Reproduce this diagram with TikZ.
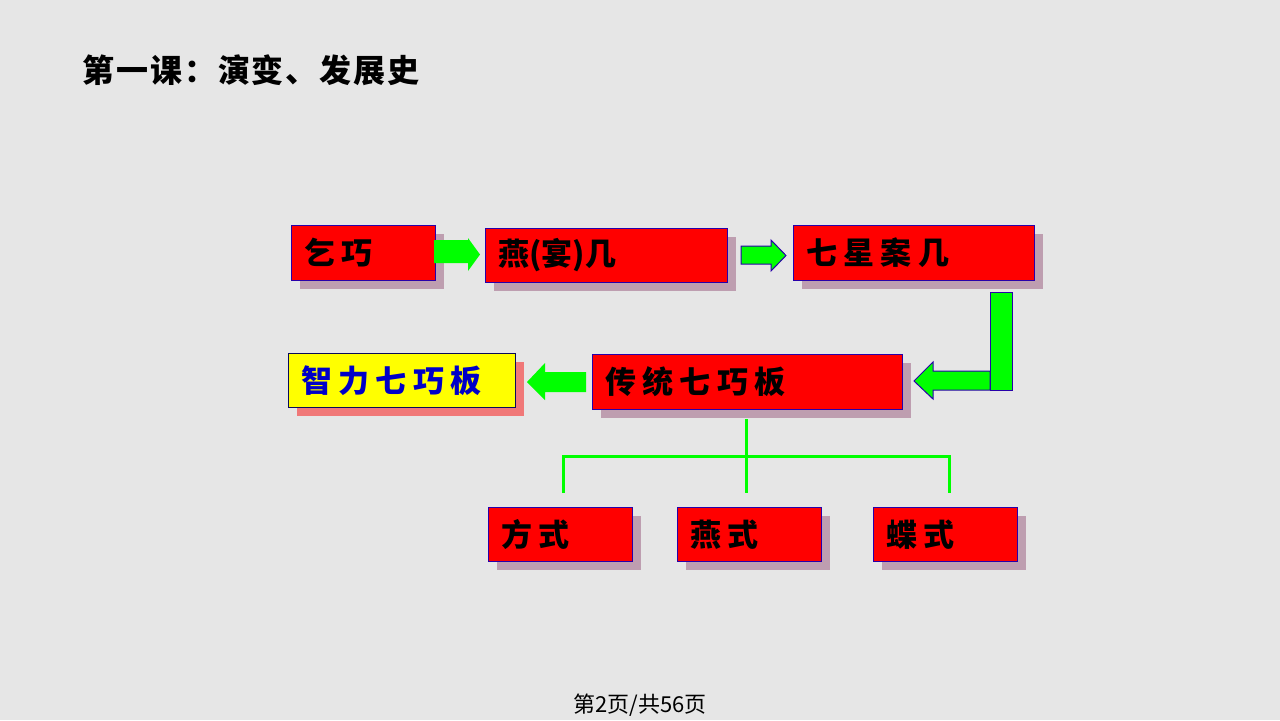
\documentclass[tikz,border=0pt]{standalone}
\usepackage{fontspec}
\setmainfont{Noto Sans CJK SC}
\newfontfamily\cjk{Noto Sans CJK SC}
\usetikzlibrary{shadows,calc}
\definecolor{bgc}{RGB}{230,230,230}
\definecolor{boxred}{RGB}{255,0,0}
\definecolor{boxline}{RGB}{40,0,170}
\definecolor{shade}{RGB}{190,158,176}
\definecolor{salmon}{RGB}{240,120,120}
\definecolor{grn}{RGB}{0,255,0}
\definecolor{yel}{RGB}{255,255,0}
\definecolor{navy}{RGB}{10,10,90}
\definecolor{bluetext}{RGB}{0,0,200}
\tikzset{
  redbox/.style={draw=boxline, line width=0.5pt, fill=boxred, anchor=north west,
    inner xsep=6.5pt, inner ysep=0pt, align=left, text=black,
    font=\cjk\bfseries\fontsize{15.5}{15.5}\selectfont\addfontfeatures{LetterSpace=20},
    drop shadow={shadow xshift=4pt, shadow yshift=-4pt, fill=shade, opacity=1}},
  yelbox/.style={redbox, draw=navy, fill=yel, text=bluetext,
    drop shadow={shadow xshift=4pt, shadow yshift=-4pt, fill=salmon, opacity=1}},
  blk/.style={fill=grn, draw=none},
  blkl/.style={fill=grn, draw=boxline, line width=0.5pt},
  tree/.style={draw=grn, line width=1.5pt},
}
\begin{document}
\begin{tikzpicture}[x=0.5pt,y=-0.5pt]
\fill[bgc] (0,0) rectangle (1280,720);
\useasboundingbox (0,0) rectangle (1280,720);

% title
\node[anchor=west, inner sep=0pt, font=\cjk\bfseries\fontsize{16}{16}\selectfont\addfontfeatures{LetterSpace=6}] (title) at (82,70) {第一课：演变、发展史};

% boxes
\node[redbox, minimum width=72pt, minimum height=27.5pt, text width=59pt] (qq) at (291,225) {乞巧};
\node[redbox, minimum width=121pt, minimum height=27pt, text width=108pt] (yj) at (485,228) {燕{\addfontfeatures{LetterSpace=0}(}宴{\addfontfeatures{LetterSpace=0})}几};
\node[redbox, minimum width=120.5pt, minimum height=27.5pt, text width=107.5pt] (qx) at (793,225) {七星案几};
\node[redbox, minimum width=155pt, minimum height=27.5pt, text width=142pt] (ct) at (592,354) {传统七巧板};
\node[yelbox, minimum width=113.5pt, minimum height=27pt, text width=100.5pt] (zl) at (288,353) {智力七巧板};
\node[redbox, minimum width=72pt, minimum height=27pt, text width=59pt] (fs) at (488,507) {方式};
\node[redbox, minimum width=72pt, minimum height=27pt, text width=59pt] (ys) at (677,507) {燕式};
\node[redbox, minimum width=72pt, minimum height=27pt, text width=59pt] (ds) at (873,507) {蝶式};

% block arrows
\fill[blk] (434,240) -- (468,240) -- (468,238) -- (480,254.5) -- (468,271) -- (468,263) -- (434,263) -- cycle;
\filldraw[blkl] (741,246) -- (771,246) -- (771,240) -- (786,255.5) -- (771,271) -- (771,264) -- (741,264) -- cycle;
\filldraw[blkl] (990,292) rectangle (1012,390);
\filldraw[blkl] (990,371) -- (933,371) -- (933,362) -- (914,381) -- (933,399) -- (933,390) -- (990,390) -- cycle;
\fill[blk] (586,372) -- (545,372) -- (545,363) -- (527,382) -- (545,400) -- (545,392) -- (586,392) -- cycle;

% tree
\coordinate (top) at (746,419);
\coordinate (mid) at (746,456);
\coordinate (l) at (563,456);
\coordinate (r) at (949,456);
\draw[tree] (top) -- (mid);
\draw[tree] (563,493) -- (l) -- (r) -- (949,493);
\draw[tree] (mid) -- (746,493);

% footer
\node[font=\cjk\fontsize{11}{11}\selectfont, inner sep=0pt] (foot) at (640,705) {第2页/共56页};
\end{tikzpicture}
\end{document}
